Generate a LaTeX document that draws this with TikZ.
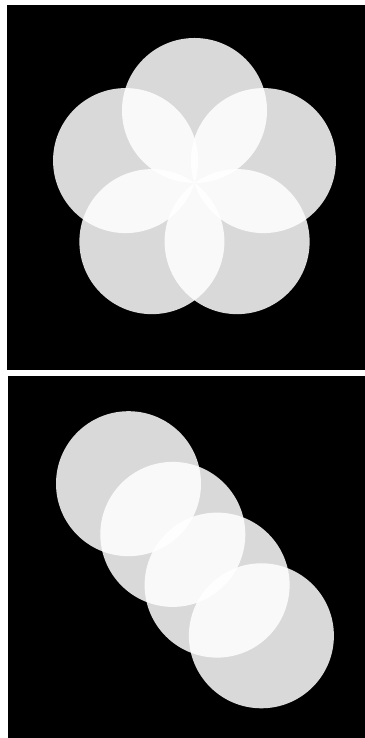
\documentclass[tikz,border=0pt]{standalone}
\usepackage{tikz}
\usetikzlibrary{calc}
\tikzset{
	panel/.style={
			fill=black,
			draw=none
		},
	disc/.style={
			fill=white,
			fill opacity=0.85,
			draw=none
		}
}

\begin{document}
\begin{tikzpicture}[x=0.05cm, y=0.05cm]
\useasboundingbox (0,0) rectangle (365,738);
\fill[white] (0,0) rectangle (365,738);

% panels
\path[panel] (7,368) rectangle (365,733);
\path[panel] (8,0) rectangle (365,362);

% pentagon of discs
\coordinate (mid) at (194.5,555);
\foreach \a [count=\i] in {90,162,234,306,18} {
  \coordinate (p\i) at ($(mid)+(\a:72.5)$);
  \path[disc] (p\i) circle (72.5);
}

% diagonal chain
\coordinate (q0) at (128.5,254.3);
\foreach \i in {0,...,3} {
  \path[disc] ($(q0)+(\i*44.3,-\i*50.7)$) circle (72.5);
}
\end{tikzpicture}
\end{document}
